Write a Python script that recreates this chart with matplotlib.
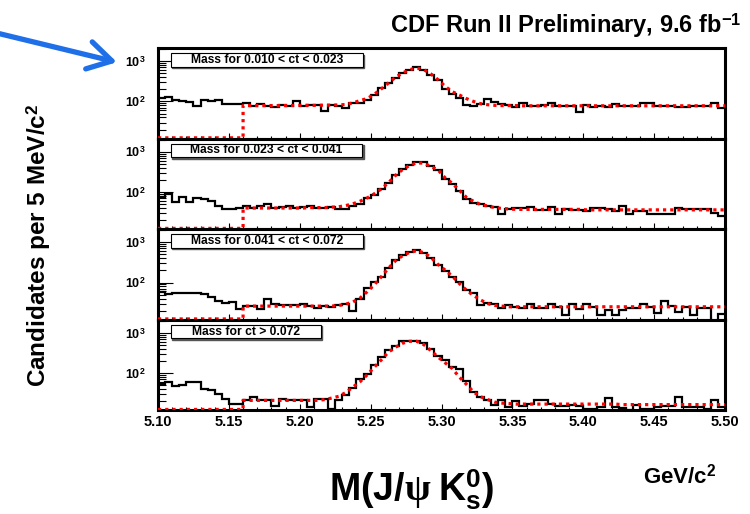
import numpy as np
import matplotlib
matplotlib.use('Agg')
import matplotlib.pyplot as plt
from matplotlib.patches import Rectangle, FancyArrowPatch
from matplotlib import transforms
from matplotlib.ticker import FixedLocator, FixedFormatter, LogLocator, NullFormatter, MultipleLocator

plt.rcParams['font.family'] = ['Liberation Sans', 'DejaVu Sans']
plt.rcParams['font.weight'] = 'bold'
plt.rcParams['mathtext.fontset'] = 'custom'
plt.rcParams['mathtext.rm'] = 'Liberation Sans:bold'
plt.rcParams['mathtext.bf'] = 'Liberation Sans:bold'
plt.rcParams['mathtext.sf'] = 'Liberation Sans:bold'
plt.rcParams['mathtext.it'] = 'Liberation Serif'

# ---------------- data ----------------
mass_lo, mass_hi = 5.10, 5.50
fit_start = 5.16          # fit defined from this mass on (zero below)
y_range = (11.8, 2080)

counts_ct1 = [122, 129, 107, 105, 97, 79, 107, 101, 111, 87,
              87, 87, 90, 76, 87, 79, 72, 83, 76, 101,
              76, 80, 83, 57, 83, 76, 69, 92, 92, 111,
              147, 216, 287, 382, 508, 615, 703, 615, 463, 347,
              205, 155, 122, 83, 76, 87, 117, 97, 87, 80,
              73, 92, 76, 76, 80, 90, 79, 76, 76, 54,
              83, 73, 79, 72, 87, 76, 79, 76, 90, 90,
              79, 76, 76, 72, 72, 76, 79, 79, 90, 69]
counts_ct2 = [77, 87, 56, 74, 56, 72, 68, 59, 46, 38,
              38, 40, 44, 40, 46, 51, 40, 42, 44, 40,
              42, 45, 40, 40, 42, 38, 37, 46, 51, 72,
              82, 119, 166, 257, 375, 463, 570, 570, 454, 354,
              210, 160, 107, 68, 53, 51, 46, 42, 28, 38,
              39, 39, 42, 36, 36, 42, 29, 38, 36, 36,
              33, 40, 40, 38, 33, 46, 29, 33, 33, 28,
              28, 28, 28, 39, 38, 37, 38, 38, 30, 25]
counts_ct3 = [57, 51, 56, 54, 54, 56, 52, 45, 35, 31,
              33, 22, 26, 26, 22, 39, 29, 28, 27, 27,
              29, 26, 24, 26, 25, 28, 30, 20, 39, 72,
              105, 139, 225, 361, 481, 560, 639, 550, 397, 271,
              195, 137, 105, 65, 54, 28, 31, 29, 24, 27,
              25, 24, 29, 23, 24, 29, 25, 16, 29, 22,
              30, 25, 16, 21, 16, 21, 24, 23, 29, 25,
              18, 35, 26, 19, 25, 16, 23, 23, 10, 16.5]
counts_ct4 = [54, 59, 47, 51, 61, 61, 40, 39, 30, 23,
              17, 17, 21, 25, 21, 21, 15, 23, 22, 22,
              22, 14, 23, 23, 13, 22, 28, 42, 72, 95,
              155, 247, 375, 481, 627, 639, 639, 560, 397, 271,
              215, 145, 124, 64, 34, 25, 22, 16, 22, 14,
              20, 15, 17, 22, 21, 17, 15, 15, 16, 15,
              12.6, 12.6, 14, 24, 14.5, 13.4, 11.9, 16, 12.6, 12.6,
              14.5, 15.3, 15.3, 26, 14.5, 14, 14, 12.6, 21.5, 14]

# fit values at bin centres from 5.16 to 5.50
fit_ct1 = [79, 79, 79, 79, 79, 79, 79, 80, 80, 80, 80, 81, 81, 82,
           84, 92, 105, 118, 150, 205, 285, 397, 508, 615, 677, 615, 481, 347,
           238, 175, 145, 118, 100, 88, 83, 80,
           79, 79, 79, 78, 78, 78, 78, 78, 78, 78, 78, 78, 78, 78, 78, 78,
           78, 78, 78, 78, 78, 78, 78, 78, 78, 78, 78, 78, 78, 78, 78, 78]
fit_ct2 = [40, 40, 40, 40, 40, 40, 40, 40, 40, 41, 41, 41, 42, 43,
           46, 51, 59, 71, 90, 119, 169, 257, 361, 454, 528, 518, 428, 354,
           225, 165, 111, 74, 59, 49, 45, 41, 39, 38,
           37, 37, 37, 37, 37, 37, 37, 37, 37, 37, 36, 36, 36, 36, 36,
           36, 36, 36, 36, 36, 36, 36, 36, 36, 36, 36, 36, 36, 36, 36]
fit_ct3 = [26, 26, 26, 26, 26, 26, 26, 26, 26, 26, 26, 26, 26, 27,
           29, 33, 41, 59, 87, 139, 225, 347, 463, 560, 615, 550, 420, 281,
           204, 145, 95, 65, 48, 37, 30, 27, 26,
           25, 25, 25, 25, 25, 25, 25, 25, 25, 25, 25, 25, 25, 25, 25, 25,
           25, 25, 25, 25, 25, 25, 25, 25, 25, 25, 25, 25, 25, 25, 25]
fit_ct4 = [21, 21, 21, 21, 21, 21, 21, 21, 21, 21, 21, 22, 24, 26.5,
           33, 45, 61, 90, 139, 212, 330, 437, 550, 615, 615, 508, 361, 250,
           180, 130, 80, 53, 34, 26, 22, 19, 18, 17.5,
           17, 17, 17, 17, 17, 17, 17, 17, 17, 17, 17, 17, 17, 17, 17,
           16.5, 16.5, 16.5, 16.5, 16.5, 16.5, 16.5, 16.5, 16.5, 16.5, 16.5, 16.5, 16.5, 16.5, 16.5]

panel_labels = ['Mass for 0.010 < ct < 0.023',
                'Mass for 0.023 < ct < 0.041',
                'Mass for 0.041 < ct < 0.072',
                'Mass for ct > 0.072']
xtick_values = [5.10, 5.15, 5.20, 5.25, 5.30, 5.35, 5.40, 5.45, 5.50]
xtick_labels = ['5.10', '5.15', '5.20', '5.25', '5.30', '5.35', '5.40', '5.45', '5.50']
ytick_values = [1e2, 1e3]
ytick_labels = ['10$^{2}$', '10$^{3}$']

counts_all = [counts_ct1, counts_ct2, counts_ct3, counts_ct4]
fits_all = [fit_ct1, fit_ct2, fit_ct3, fit_ct4]
box_right = [0.361, 0.360, 0.361, 0.287]

# ---------------- figure ----------------
fig = plt.figure(figsize=(7.5, 5.14), dpi=100)
gs = fig.add_gridspec(4, 1, left=0.2107, right=0.9667, top=0.906, bottom=0.2014, hspace=0)

for i in range(4):
    ax = fig.add_subplot(gs[i, 0])
    counts = np.asarray(counts_all[i], dtype=float)
    edges = np.linspace(mass_lo, mass_hi, len(counts) + 1)
    centers = 0.5 * (edges[:-1] + edges[1:])
    fit = np.asarray(fits_all[i], dtype=float)
    fit_x_pts = centers[-len(fit):]

    ax.set_yscale('log')
    ax.set_xlim(mass_lo, mass_hi)
    ax.set_ylim(*y_range)

    ax.stairs(counts, edges, baseline=None, color='black', lw=1.6, zorder=3)

    floor = y_range[0] * 1.06
    fx = np.concatenate([[mass_lo, fit_start, fit_start], fit_x_pts, [mass_hi]])
    fy = np.concatenate([[floor, floor, fit[0]], fit, [fit[-1]]])
    ax.plot(fx, fy, color='#ff0000', lw=2.3, linestyle=(0, (1, 1.25)),
            dash_capstyle='butt', solid_capstyle='butt', zorder=4)

    for s in ax.spines.values():
        s.set_linewidth(2.2)

    ax.yaxis.set_major_locator(FixedLocator(ytick_values))
    ax.yaxis.set_major_formatter(FixedFormatter(ytick_labels))
    ax.yaxis.set_minor_locator(LogLocator(base=10, subs=np.arange(2, 10)))
    ax.yaxis.set_minor_formatter(NullFormatter())
    ax.tick_params(axis='y', which='major', direction='in', length=11, width=0.8,
                   labelsize=9, pad=9, right=False)
    ax.tick_params(axis='y', which='minor', direction='in', length=5.5, width=0.8, right=False)

    ax.xaxis.set_major_locator(FixedLocator(xtick_values))
    ax.xaxis.set_minor_locator(MultipleLocator(0.01))
    ax.tick_params(axis='x', which='major', direction='in', length=4, width=0.8, top=False,
                   labelsize=10.5, pad=3)
    ax.tick_params(axis='x', which='minor', direction='in', length=2, width=0.8, top=False)
    if i == 3:
        ax.set_xticklabels(xtick_labels)
        for t in ax.get_xticklabels():
            t.set_fontweight('bold')
    else:
        ax.tick_params(axis='x', labelbottom=False)
    for t in ax.get_yticklabels():
        t.set_fontweight('bold')

    # label box with shadow
    x0, x1, y0, y1 = 0.0224, box_right[i], 0.798, 0.945
    shadow_tr = transforms.offset_copy(ax.transAxes, fig=fig, x=1.5, y=-1.5, units='dots')
    ax.add_patch(Rectangle((x0, y0), x1 - x0, y1 - y0, transform=shadow_tr,
                           facecolor='#555555', edgecolor='#555555', lw=1, zorder=5))
    ax.add_patch(Rectangle((x0, y0), x1 - x0, y1 - y0, transform=ax.transAxes,
                           facecolor='white', edgecolor='black', lw=0.8, zorder=6))
    ax.text((x0 + x1) / 2, (y0 + y1) / 2, panel_labels[i], transform=ax.transAxes,
            ha='center', va='center', fontsize=8.7, fontweight='bold', zorder=7)

fig.text(0.988, 0.936, 'CDF Run II Preliminary, 9.6 fb$^{-1}$', ha='right', va='baseline',
         fontsize=17, fontweight='bold')
fig.text(0.051, 0.523, 'Candidates per 5 MeV/c$^{2}$', rotation=90, ha='center', va='center',
         fontsize=17.5, fontweight='bold')
fig.text(0.549, 0.0253, r'$\mathsf{M(J/}\psi\;\mathsf{K}^{\mathsf{0}}_{\mathsf{s}}\mathsf{)}$',
         ha='center', va='baseline', fontsize=27)
fig.text(0.857, 0.060, 'GeV/c$^{2}$', ha='left', va='baseline', fontsize=16, fontweight='bold')

arrow = FancyArrowPatch((-0.005, 0.936), (0.156, 0.879), transform=fig.transFigure,
                        arrowstyle='->,head_length=0.68,head_width=0.40', mutation_scale=25,
                        color='#1f6fe8', lw=3.8, shrinkA=0, shrinkB=0)
fig.add_artist(arrow)

fig.savefig('out.png', dpi=100)
